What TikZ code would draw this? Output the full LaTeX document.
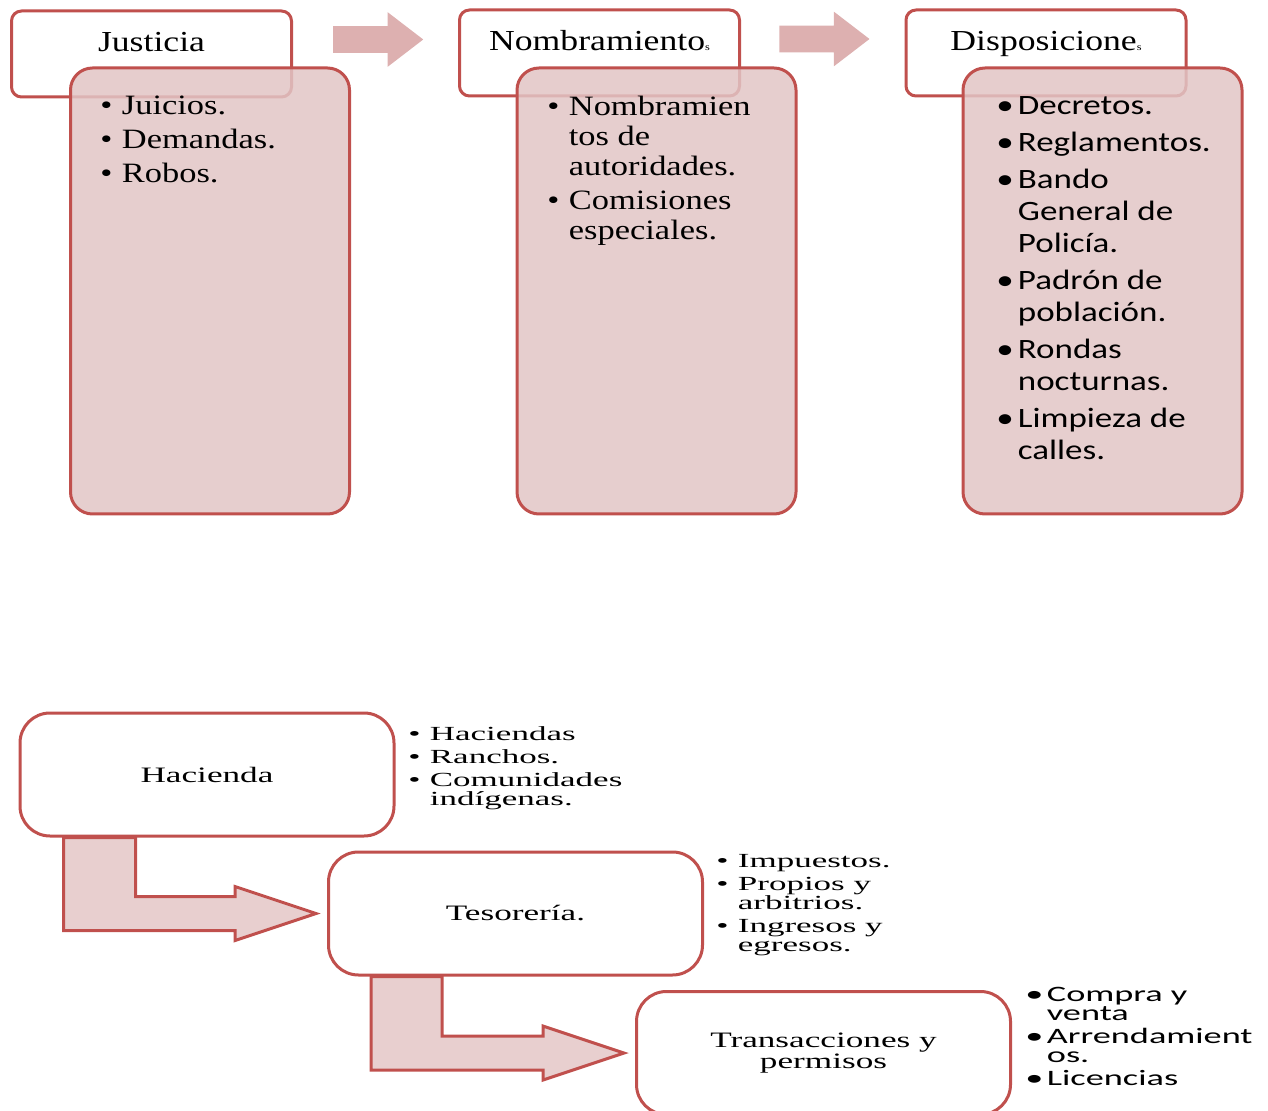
\documentclass[tikz,border=0pt]{standalone}
\usepackage{fontspec}
\setmainfont{Liberation Serif}
\newfontfamily\topserif[FakeStretch=1.23]{Liberation Serif}
\newfontfamily\topsans[FakeStretch=1.25]{Carlito}
\newfontfamily\boxserif[FakeStretch=1.6]{Liberation Serif}
\newfontfamily\listserif[FakeStretch=1.75]{Liberation Serif}
\newfontfamily\listsans[FakeStretch=1.65]{Carlito}
\usetikzlibrary{shapes.arrows,positioning,calc}

\definecolor{boxred}{RGB}{192,80,77}
\definecolor{pinkfill}{RGB}{226,197,197}
\definecolor{arrowpink}{RGB}{221,176,176}
\definecolor{bendfill}{RGB}{232,207,207}

\newcommand{\bt}{\makebox[10.75pt][l]{\textbullet}}
\newcommand{\ind}{\hspace*{10.75pt}}
\newcommand{\tinys}{{\fontsize{5}{5}\selectfont s}}

\begin{document}
\begin{tikzpicture}[
    x = 0.5pt, y = -0.5pt, % pixel grid of the reference
    titlebox/.style = {draw = boxred, line width = 1.5pt, fill = white,
        rounded corners = 5pt, minimum width = 140pt, minimum height = 43pt},
    titletext/.style = {anchor = base, inner sep = 0pt,
        font = \topserif\fontsize{14.5}{16}\selectfont},
    contentbox/.style = {draw = boxred, line width = 1.5pt, fill = pinkfill,
        fill opacity = 0.85, rounded corners = 11pt,
        minimum width = 139.5pt, minimum height = 223pt},
    toplist/.style = {anchor = north west, inner sep = 0pt, align = left,
        font = \topserif\fontsize{14}{15}\selectfont},
    sanslist/.style = {anchor = north west, inner sep = 0pt, align = left,
        font = \topsans\fontsize{14}{16}\selectfont},
    toparrow/.style = {single arrow, fill = arrowpink, draw = none,
        minimum height = 45pt, minimum width = 27pt, inner xsep = 0pt, inner ysep = 6.5pt,
        single arrow head extend = 7pt, single arrow tip angle = 75},
    stepbox/.style = {draw = boxred, line width = 1.5pt, fill = white,
        rounded corners = 15pt, minimum width = 187pt, minimum height = 61.5pt,
        align = center, font = \boxserif\fontsize{11}{9}\selectfont},
    botlist/.style = {anchor = north west, inner sep = 0pt, align = left,
        font = \listserif\fontsize{10}{9.5}\selectfont},
    botsans/.style = {anchor = north west, inner sep = 0pt, align = left,
        font = \listsans\fontsize{11}{9.5}\selectfont},
    bendarrow/.style = {draw = boxred, line width = 1.5pt, fill = bendfill,
        line join = miter}
    ]
    \useasboundingbox (0,0) rectangle (1268,1111);

    % top row: titles
    \node[titlebox] (t1) at (151.5,54) {};
    \node[titlebox] (t2) at (599.5,53) {};
    \node[titlebox] (t3) at (1046,53) {};
    \node[titletext] (t1l) at ($(t1.north)+(0,42)$) {Justicia};
    \node[titletext] (t2l) at ($(t2.north)+(0,42)$) {Nombramiento\tinys};
    \node[titletext] (t3l) at ($(t3.north)+(0,42)$) {Disposicione\tinys};

    % top row: contents
    \node[contentbox] (c1) at ($(t1)+(58.5,237)$) {};
    \node[contentbox] (c2) at ($(t2)+(57,238)$) {};
    \node[contentbox] (c3) at ($(t3)+(56.5,238)$) {};

    \node[toplist] (l1) at (100,96) {\bt Juicios.\\[2pt] \bt Demandas.\\[2pt] \bt Robos.};
    \node[toplist] (l2) at (547,96) {\bt Nombramien\\ \ind tos de\\ \ind autoridades.\\[2pt]
        \bt Comisiones\\ \ind especiales.};
    \node[sanslist] (l3) at (996,96) {\bt Decretos.\\[2.5pt] \bt Reglamentos.\\[2.5pt]
        \bt Bando\\ \ind General de\\ \ind Policía.\\[2.5pt]
        \bt Padrón de\\ \ind población.\\[2.5pt]
        \bt Rondas\\ \ind nocturnas.\\[2.5pt]
        \bt Limpieza de\\ \ind calles.};

    \node[toparrow] (a1) at ($(t1.east)!0.5!(t2.west)+(-6,-14)$) {};
    \node[toparrow] (a2) at ($(t2.east)!0.5!(t3.west)+(-7,-14)$) {};

    % bottom steps
    \node[stepbox] (hac) at (207,774.5) {Hacienda};
    \node[stepbox] (tes) at (515.5,913.5) {Tesorería.};
    \node[stepbox] (tra) at (823.5,1053) {Transacciones y\\permisos};

    \draw[bendarrow] ($(hac.south west)+(45,0)$) |- ($(tes.west)+(-92,17)$) -- ++(0,10)
        -- ($(tes.west)+(-11,0)$) -- ++(-81,-27) -- ++(0,10) -| ($(hac.south west)+(117,0)$) -- cycle;
    \draw[bendarrow] ($(tes.south west)+(44,0)$) |- ($(tra.west)+(-92,17)$) -- ++(0,10)
        -- ($(tra.west)+(-11,0)$) -- ++(-81,-27) -- ++(0,10) -| ($(tes.south west)+(115,0)$) -- cycle;

    \node[botlist] (hl) at (408,726) {\bt Haciendas\\[2pt] \bt Ranchos.\\[2pt]
        \bt Comunidades\\ \ind indígenas.};
    \node[botlist] (tl) at (716,854) {\bt Impuestos.\\[2pt] \bt Propios y\\
        \ind arbitrios.\\[2pt] \bt Ingresos y\\ \ind egresos.};
    \node[botsans] (rl) at (1025,987) {\bt Compra y\\ \ind venta\\[2pt]
        \bt Arrendamient\\ \ind os.\\[2pt] \bt Licencias};
\end{tikzpicture}
\end{document}
